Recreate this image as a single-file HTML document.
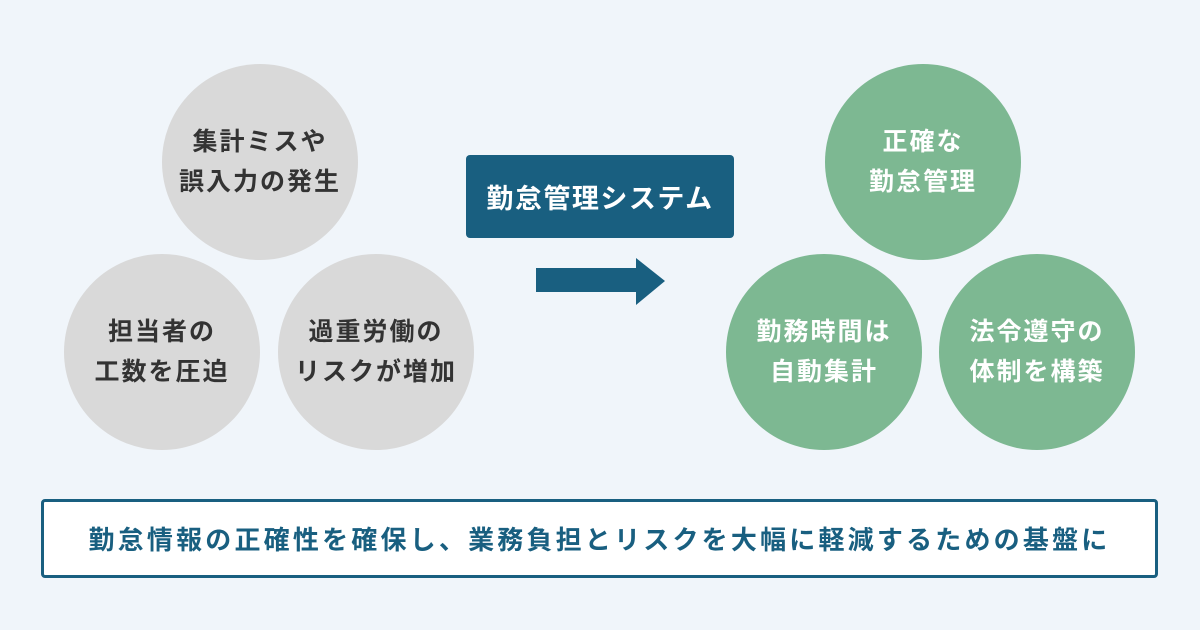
<!DOCTYPE html>
<html><head><meta charset="utf-8"><style>
body{margin:0;width:1200px;height:630px;background:#f0f5fa;position:relative;overflow:hidden;font-family:"Liberation Sans","Noto Sans CJK JP",sans-serif;font-weight:bold}
.c{position:absolute;width:196px;height:196px;border-radius:50%;display:flex;align-items:center;justify-content:center;text-align:center;font-size:25px;line-height:40px;letter-spacing:2px}
.g{background:#d9d9d9;color:#333}
.n{background:#7db892;color:#fff}
.box{position:absolute;left:466px;top:155px;width:268px;height:83px;background:#195f80;border-radius:4px;color:#fff;font-size:27px;display:flex;align-items:center;justify-content:center;letter-spacing:1.5px}
.bot{position:absolute;left:41px;top:499px;width:1111px;height:73px;border:3px solid #195f80;background:#fff;border-radius:4px;color:#195f80;font-size:26px;display:flex;align-items:center;justify-content:center;letter-spacing:3.2px}
</style></head><body>
<div class="c g" style="left:162px;top:64px">集計ミスや<br>誤入力の発生</div>
<div class="c g" style="left:64px;top:254px">担当者の<br>工数を圧迫</div>
<div class="c g" style="left:278px;top:254px">過重労働の<br>リスクが増加</div>
<div class="box">勤怠管理システム</div>
<svg style="position:absolute;left:0;top:0" width="1200" height="630"><polygon points="536,268 636,268 636,258 665,281 636,305 636,292 536,292" fill="#195f80"/></svg>
<div class="c n" style="left:825px;top:64px">正確な<br>勤怠管理</div>
<div class="c n" style="left:726px;top:254px">勤務時間は<br>自動集計</div>
<div class="c n" style="left:939px;top:254px">法令遵守の<br>体制を構築</div>
<div class="bot">勤怠情報の正確性を確保し、業務負担とリスクを大幅に軽減するための基盤に</div>
</body></html>
